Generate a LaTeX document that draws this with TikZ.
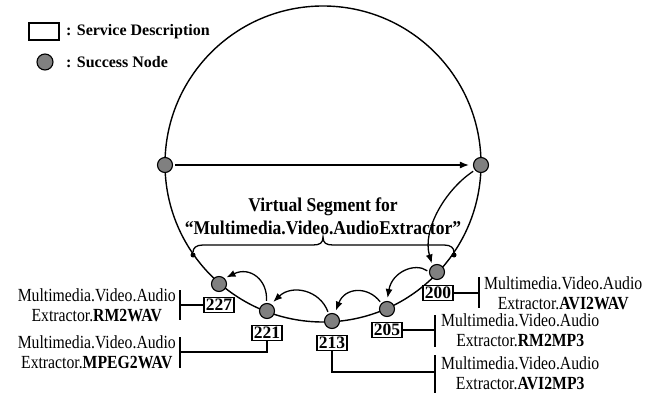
\documentclass[tikz,border=0pt]{standalone}
\usepackage{fontspec}
\setmainfont{Liberation Serif}
\usepackage{graphicx}
\usetikzlibrary{arrows.meta}
\definecolor{nodegray}{RGB}{128,128,128}
\newcommand\hsq[2]{\scalebox{#1}[1]{#2}}
\begin{document}
\begin{tikzpicture}[x=1pt,y=-1pt,
  snode/.style={circle,draw,fill=nodegray,minimum size=15pt,inner sep=0pt,line width=1.1pt},
  sbox/.style={draw,fill=white,line width=1.3pt,minimum width=30pt,minimum height=15pt,inner sep=0pt,font=\bfseries\fontsize{17.5}{17.5}\selectfont},
  desc/.style={align=center,inner sep=0pt,font=\fontsize{18.5}{20}\selectfont},
  lead/.style={line width=1.2pt},
  flow/.style={line width=1.3pt,-{Latex[length=9pt,width=7pt]}},
  ring/.style={line width=1.4pt},
  tinydot/.style={circle,fill=black,minimum size=5pt,inner sep=0pt},
  legend/.style={anchor=west,inner sep=0pt,font=\bfseries\fontsize{16}{16}\selectfont}
]
\useasboundingbox (0,0) rectangle (662,393);

% ring
\draw[ring] (323,164) circle[radius=158pt];

% legend
\node[draw,line width=1.2pt,minimum width=30pt,minimum height=17pt,inner sep=0pt] (lgbox) at (44,31.5) {};
\node[legend] (lgt1) at (66,32) {: Service Description};
\node[snode,minimum size=16pt] (lgc) at (45,62) {};
\node[legend] (lgt2) at (66,62) {: Success Node};

% service description boxes
\node[sbox] (b227) at (219,305) {227};
\node[sbox] (b221) at (267,333) {221};
\node[sbox] (b213) at (332,343) {213};
\node[sbox] (b205) at (387,330) {205};
\node[sbox] (b200) at (438,293) {200};

% success nodes
\node[snode] (nL) at (165,165) {};
\node[snode] (nR) at (481,165) {};
\node[snode] (n200) at (437,272) {};
\node[snode] (n205) at (387,309) {};
\node[snode] (n213) at (332,321) {};
\node[snode] (n221) at (267,311) {};
\node[snode] (n227) at (219,284) {};

% brace ends
\node[tinydot] (dL) at (193,255) {};
\node[tinydot] (dR) at (454,255) {};

% virtual segment label and brace
\node[align=center,inner sep=0pt,font=\bfseries\fontsize{19.5}{23}\selectfont] (vs) at (323,216)
  {\hsq{.9}{Virtual Segment for}\\\hsq{.9}{“Multimedia.Video.AudioExtractor”}};
\coordinate (btip) at (323,237);
\draw[line width=1.3pt] (dL) .. controls (193,248) and (196,245) .. (203,245) -- (313,245)
  .. controls (320,245) and (323,243) .. (btip)
  .. controls (323,243) and (326,245) .. (333,245) -- (444,245)
  .. controls (451,245) and (454,248) .. (dR);

% flows
\draw[flow,shorten >=4pt,shorten <=2pt] (nL) -- (nR);
\draw[flow,shorten >=2pt,shorten <=2pt] (nR.220) .. controls (445,190) and (422,230) .. (n200.125);
\draw[flow,shorten >=3pt,shorten <=2pt] (n200.west) .. controls (415,262) and (392,272) .. (n205.north);
\draw[flow,shorten >=3pt,shorten <=2pt] (n205.135) .. controls (368,286) and (345,287) .. (n213.70);
\draw[flow,shorten >=3pt,shorten <=2pt] (n213.115) .. controls (320,290) and (292,284) .. (n221.60);
\draw[flow,shorten >=2pt,shorten <=2pt] (n221.95) .. controls (268,280) and (250,266) .. (n227.45);

% bars
\coordinate (t227) at (180,290); \coordinate (u227) at (180,320);
\coordinate (t221) at (180,337); \coordinate (u221) at (180,368); \coordinate (k221) at (180,352);
\coordinate (t213) at (435,355); \coordinate (u213) at (435,393); \coordinate (k213) at (435,372);
\coordinate (t205) at (435,315); \coordinate (u205) at (435,347);
\coordinate (t200) at (479,277); \coordinate (u200) at (479,308);
\draw[lead] (t227) -- (u227);
\draw[lead] (t221) -- (u221);
\draw[lead] (t213) -- (u213);
\draw[lead] (t205) -- (u205);
\draw[lead] (t200) -- (u200);
\draw[lead] (b227.west) -- (t227 |- b227.west);
\draw[lead] (b221.south) |- (k221);
\draw[lead] (b213.south) |- (k213);
\draw[lead] (b205.east) -- (t205 |- b205.east);
\draw[lead] (b200.east) -- (t200 |- b200.east);

% descriptions
\node[desc,anchor=east] (d227) at (176,305) {\hsq{.85}{Multimedia.Video.Audio}\\\hsq{.85}{Extractor.\textbf{RM2WAV}}};
\node[desc,anchor=east] (d221) at (176,352) {\hsq{.85}{Multimedia.Video.Audio}\\\hsq{.85}{Extractor.\textbf{MPEG2WAV}}};
\node[desc,anchor=west] (d200) at (484,293) {\hsq{.85}{Multimedia.Video.Audio}\\\hsq{.85}{Extractor.\textbf{AVI2WAV}}};
\node[desc,anchor=west] (d205) at (441,330) {\hsq{.85}{Multimedia.Video.Audio}\\\hsq{.85}{Extractor.\textbf{RM2MP3}}};
\node[desc,anchor=west] (d213) at (441,373) {\hsq{.85}{Multimedia.Video.Audio}\\\hsq{.85}{Extractor.\textbf{AVI2MP3}}};
\end{tikzpicture}
\end{document}
